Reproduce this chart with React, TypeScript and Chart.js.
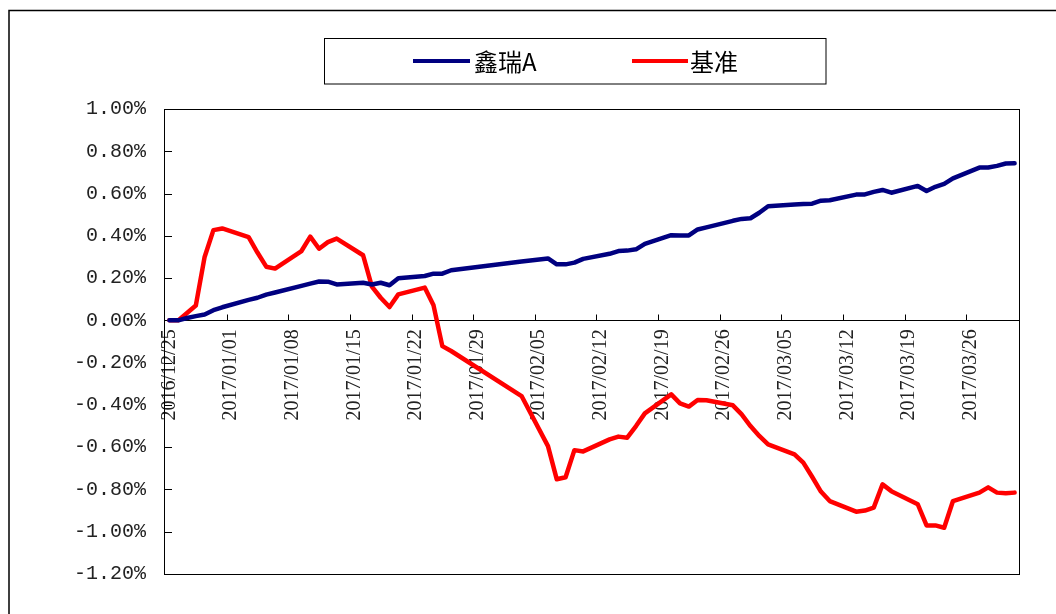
import React, { useEffect, useRef } from 'react';
import { Chart, registerables } from 'chart.js';

Chart.register(...registerables);

// ---- data ----
const START_DATE = '2016/12/25';
const END_DATE = '2017/03/31';

const tradeDates = [
  '2016/12/25', '2016/12/26', '2016/12/27', '2016/12/28', '2016/12/29', '2016/12/30', '2016/12/31',
  '2017/01/03', '2017/01/04', '2017/01/05', '2017/01/06',
  '2017/01/09', '2017/01/10', '2017/01/11', '2017/01/12', '2017/01/13',
  '2017/01/16', '2017/01/17', '2017/01/18', '2017/01/19', '2017/01/20',
  '2017/01/23', '2017/01/24', '2017/01/25', '2017/01/26',
  '2017/02/03',
  '2017/02/06', '2017/02/07', '2017/02/08', '2017/02/09', '2017/02/10',
  '2017/02/13', '2017/02/14', '2017/02/15', '2017/02/16', '2017/02/17',
  '2017/02/20', '2017/02/21', '2017/02/22', '2017/02/23', '2017/02/24',
  '2017/02/27', '2017/02/28', '2017/03/01', '2017/03/02', '2017/03/03',
  '2017/03/06', '2017/03/07', '2017/03/08', '2017/03/09', '2017/03/10',
  '2017/03/13', '2017/03/14', '2017/03/15', '2017/03/16', '2017/03/17',
  '2017/03/20', '2017/03/21', '2017/03/22', '2017/03/23', '2017/03/24',
  '2017/03/27', '2017/03/28', '2017/03/29', '2017/03/30', '2017/03/31',
];

// values in percent
const xinruiA = [
  0, 0, 0.011, 0.02, 0.028, 0.048, 0.062,
  0.097, 0.107, 0.122, 0.132,
  0.163, 0.174, 0.184, 0.183, 0.17,
  0.178, 0.17, 0.178, 0.166, 0.199,
  0.21, 0.221, 0.221, 0.237,
  0.278,
  0.293, 0.265, 0.265, 0.273, 0.291,
  0.315, 0.328, 0.33, 0.336, 0.362,
  0.403, 0.402, 0.402, 0.43, 0.44,
  0.471, 0.48, 0.483, 0.509, 0.54,
  0.548, 0.551, 0.552, 0.566, 0.568,
  0.595, 0.596, 0.608, 0.617, 0.604,
  0.636, 0.612, 0.632, 0.646, 0.672,
  0.723, 0.723, 0.731, 0.742, 0.743,
];

const benchmark = [
  0, 0, 0.035, 0.07, 0.3, 0.427, 0.435,
  0.394, 0.321, 0.254, 0.245,
  0.328, 0.396, 0.339, 0.37, 0.387,
  0.308, 0.16, 0.107, 0.063, 0.123,
  0.155, 0.071, -0.122, -0.145,
  -0.358,
  -0.595, -0.752, -0.742, -0.614, -0.62,
  -0.563, -0.55, -0.555, -0.5, -0.44,
  -0.35, -0.393, -0.408, -0.377, -0.378,
  -0.402, -0.445, -0.5, -0.547, -0.587,
  -0.634, -0.673, -0.74, -0.81, -0.855,
  -0.905, -0.9, -0.886, -0.776, -0.808,
  -0.87, -0.97, -0.97, -0.981, -0.855,
  -0.815, -0.79, -0.815, -0.818, -0.815,
];

const seriesNames = ['鑫瑞A', '基准'];
const seriesColors = ['#000080', '#FF0000'];
const Y_MIN = -1.2;
const Y_MAX = 1.0;
const Y_STEP = 0.2;
const TICK_EVERY = 7;

function pad2(n: number) {
  return n < 10 ? '0' + n : String(n);
}

function buildDays(start: string, end: string): string[] {
  const [sy, sm, sd] = start.split('/').map(Number);
  const [ey, em, ed] = end.split('/').map(Number);
  let t = Date.UTC(sy, sm - 1, sd);
  const te = Date.UTC(ey, em - 1, ed);
  const out: string[] = [];
  while (t <= te) {
    const d = new Date(t);
    out.push(`${d.getUTCFullYear()}/${pad2(d.getUTCMonth() + 1)}/${pad2(d.getUTCDate())}`);
    t += 86400000;
  }
  return out;
}

const categories = buildDays(START_DATE, END_DATE);

const decorPlugin = {
  id: 'decor',
  beforeDraw(chart: any) {
    const ctx = chart.ctx;
    ctx.save();
    ctx.fillStyle = '#ffffff';
    ctx.fillRect(0, 0, chart.width, chart.height);
    ctx.strokeStyle = '#000';
    ctx.lineWidth = 1.5;
    ctx.beginPath();
    ctx.moveTo(9, chart.height + 5);
    ctx.lineTo(9, 10.5);
    ctx.lineTo(chart.width + 5, 10.5);
    ctx.stroke();
    ctx.restore();
  },
  beforeDatasetsDraw(chart: any) {
    const { ctx, chartArea: a, scales } = chart;
    const x = scales.x;
    const y = scales.y;
    ctx.save();
    ctx.strokeStyle = '#000';
    ctx.lineWidth = 1;
    ctx.strokeRect(a.left - 0.5, a.top + 0.5, a.right - a.left + 1, a.bottom - a.top);
    const y0 = Math.round(y.getPixelForValue(0)) + 0.5;
    ctx.beginPath();
    ctx.moveTo(a.left, y0);
    ctx.lineTo(a.right, y0);
    const w = x.getPixelForValue(1) - x.getPixelForValue(0);
    for (let i = TICK_EVERY; i < categories.length; i += TICK_EVERY) {
      const px = Math.round(x.getPixelForValue(i) - w / 2) + 0.5;
      ctx.moveTo(px, y0);
      ctx.lineTo(px, y0 - 6);
    }
    y.ticks.forEach((t: any) => {
      const py = Math.round(y.getPixelForValue(t.value)) + 0.5;
      ctx.moveTo(a.left, py);
      ctx.lineTo(a.left + 7, py);
    });
    ctx.stroke();
    ctx.restore();
  },
  afterDraw(chart: any) {
    const ctx = chart.ctx;
    ctx.save();
    ctx.strokeStyle = '#000';
    ctx.lineWidth = 1;
    ctx.strokeRect(324.5, 38.5, 501.5, 45.5);
    const items = [
      { x0: 413, x1: 470, tx: 474 },
      { x0: 632, x1: 688, tx: 690 },
    ];
    items.forEach((it, i) => {
      ctx.strokeStyle = seriesColors[i];
      ctx.lineWidth = 4;
      ctx.beginPath();
      ctx.moveTo(it.x0, 61);
      ctx.lineTo(it.x1, 61);
      ctx.stroke();
      ctx.fillStyle = '#000';
      ctx.font = '24px "Noto Sans CJK SC"';
      ctx.textBaseline = 'middle';
      ctx.textAlign = 'left';
      ctx.fillText(seriesNames[i], it.tx, 62);
    });
    ctx.restore();
  },
};

export default function App() {
  const ref = useRef<HTMLCanvasElement | null>(null);

  useEffect(() => {
    if (!ref.current) return;
    const toPoints = (vals: number[]) => tradeDates.map((d, i) => ({ x: d, y: vals[i] }));
    const chart = new Chart(ref.current, {
      type: 'line',
      data: {
        labels: categories,
        datasets: [
          {
            label: seriesNames[0],
            data: toPoints(xinruiA),
            borderColor: seriesColors[0],
            backgroundColor: seriesColors[0],
            borderWidth: 4.5,
            pointRadius: 0,
            tension: 0,
            borderJoinStyle: 'round',
            borderCapStyle: 'round',
          },
          {
            label: seriesNames[1],
            data: toPoints(benchmark),
            borderColor: seriesColors[1],
            backgroundColor: seriesColors[1],
            borderWidth: 4.5,
            pointRadius: 0,
            tension: 0,
            borderJoinStyle: 'round',
            borderCapStyle: 'round',
          },
        ],
      },
      options: {
        responsive: false,
        animation: false,
        devicePixelRatio: 1,
        layout: { padding: { top: 109, bottom: 40, right: 37, left: 0 } },
        plugins: {
          legend: { display: false },
          tooltip: { enabled: false },
        },
        scales: {
          x: {
            type: 'category',
            position: { y: 0 } as any,
            offset: true,
            grid: { display: false, drawTicks: false, offset: true },
            border: { display: false },
            ticks: {
              autoSkip: false,
              minRotation: 90,
              maxRotation: 90,
              padding: 9,
              color: '#222',
              font: { family: '"Liberation Sans Narrow", "Liberation Serif"', size: 20 },
              callback: function (this: any, val: any, idx: number) {
                return idx % TICK_EVERY === 0 ? this.getLabelForValue(val) : '';
              },
            },
            afterFit: (scale: any) => {
              scale.height = 0;
            },
          },
          y: {
            min: Y_MIN,
            max: Y_MAX,
            grid: { display: false, drawTicks: false },
            border: { display: false },
            ticks: {
              stepSize: Y_STEP,
              padding: 19,
              color: '#222',
              font: { family: '"Liberation Mono"', size: 20 },
              callback: (v: any) => {
                const n = Math.abs(v) < 1e-9 ? 0 : Number(v);
                return n.toFixed(2) + '%';
              },
            },
            afterFit: (scale: any) => {
              scale.width = 165;
            },
          },
        },
      },
      plugins: [decorPlugin],
    });
    return () => chart.destroy();
  }, []);

  return (
    <div style={{ position: 'absolute', left: 0, top: 0, width: 1056, height: 614 }}>
      <canvas ref={ref} width={1056} height={614} style={{ display: 'block' }} />
    </div>
  );
}
